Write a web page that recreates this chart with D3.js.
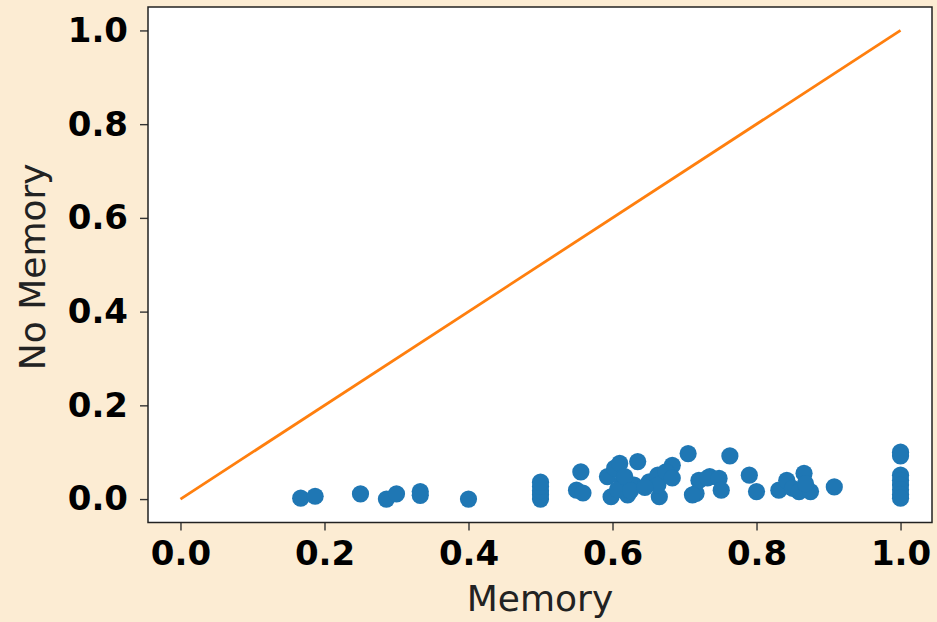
<!DOCTYPE html>
<html>
<head>
<meta charset="utf-8">
<script src="https://cdn.jsdelivr.net/npm/d3@7"></script>
<style>
  html, body { margin: 0; padding: 0; background: #fcecd3; }
  svg { display: block; }
</style>
</head>
<body>
<svg id="chart" width="937" height="622"></svg>
<script>
// Data
const memory = [
  0.167, 0.187, 0.25, 0.286, 0.30, 0.333, 0.333, 0.40,
  0.50, 0.50, 0.50, 0.50, 0.50,
  0.556, 0.550, 0.559,
  0.593, 0.603, 0.610, 0.598, 0.621, 0.630, 0.614, 0.635, 0.651, 0.663, 0.665, 0.663,
  0.705, 0.683, 0.674, 0.683, 0.716, 0.720, 0.711, 0.735, 0.732, 0.748, 0.751, 0.763,
  0.790, 0.800, 0.831, 0.842, 0.850, 0.866, 0.859, 0.875, 0.868, 0.908,
  0.607, 0.617, 0.625, 0.645,
  1.0, 1.0, 1.0, 1.0, 1.0, 1.0, 1.0, 1.0
];
const noMemory = [
  0.002, 0.006, 0.011, 0.0, 0.011, 0.016, 0.008, 0.0,
  0.0, 0.009, 0.018, 0.027, 0.036,
  0.058, 0.019, 0.013,
  0.048, 0.066, 0.076, 0.005, 0.009, 0.030, 0.037, 0.080, 0.037, 0.051, 0.005, 0.030,
  0.097, 0.072, 0.058, 0.045, 0.012, 0.040, 0.009, 0.048, 0.045, 0.044, 0.019, 0.092,
  0.051, 0.016, 0.019, 0.040, 0.023, 0.055, 0.016, 0.016, 0.033, 0.026,
  0.020, 0.048, 0.018, 0.025,
  0.100, 0.092, 0.051, 0.040, 0.030, 0.020, 0.010, 0.002
];
const lineX = [0.0, 1.0];
const lineY = [0.0, 1.0];
const xTicks = [0.0, 0.2, 0.4, 0.6, 0.8, 1.0];
const yTicks = [0.0, 0.2, 0.4, 0.6, 0.8, 1.0];
const xLabel = "Memory";
const yLabel = "No Memory";

const svg = d3.select("#chart");
const plot = { left: 148, right: 932, top: 7, bottom: 522.5 };

const x = d3.scaleLinear().domain([-0.0451, 1.0437]).range([plot.left, plot.right]);
const y = d3.scaleLinear().domain([-0.05, 1.05]).range([plot.bottom, plot.top]);

// background
svg.append("rect").attr("x", 0).attr("y", 0).attr("width", 937).attr("height", 622).attr("fill", "#fcecd3");
svg.append("rect")
  .attr("x", plot.left).attr("y", plot.top)
  .attr("width", plot.right - plot.left).attr("height", plot.bottom - plot.top)
  .attr("fill", "#ffffff");

// diagonal line
const line = d3.line().x(d => x(d[0])).y(d => y(d[1]));
svg.append("path")
  .datum(lineX.map((v, i) => [v, lineY[i]]))
  .attr("d", line)
  .attr("fill", "none")
  .attr("stroke", "#ff7f0e")
  .attr("stroke-width", 2.8);

// points
svg.append("g")
  .selectAll("circle")
  .data(memory.map((v, i) => [v, noMemory[i]]))
  .join("circle")
  .attr("cx", d => x(d[0]))
  .attr("cy", d => y(d[1]))
  .attr("r", 8.6)
  .attr("fill", "#1f77b4");

// axes
const fontFam = "'DejaVu Sans', sans-serif";
const xAxis = d3.axisBottom(x).tickValues(xTicks).tickFormat(d3.format(".1f")).tickSize(8).tickPadding(10);
const yAxis = d3.axisLeft(y).tickValues(yTicks).tickFormat(d3.format(".1f")).tickSize(8).tickPadding(12);

const gx = svg.append("g").attr("transform", `translate(0,${plot.bottom})`).call(xAxis);
const gy = svg.append("g").attr("transform", `translate(${plot.left},0)`).call(yAxis);

[gx, gy].forEach(g => {
  g.select(".domain").remove();
  g.selectAll(".tick line").attr("stroke", "#333").attr("stroke-width", 1.4);
  g.selectAll(".tick text")
    .attr("fill", "#000")
    .style("font-family", fontFam)
    .style("font-size", "34px")
    .style("font-weight", "bold");
});

// spines
svg.append("rect")
  .attr("x", plot.left).attr("y", plot.top)
  .attr("width", plot.right - plot.left).attr("height", plot.bottom - plot.top)
  .attr("fill", "none")
  .attr("stroke", "#222")
  .attr("stroke-width", 1.5);

// axis labels
svg.append("text")
  .attr("x", (plot.left + plot.right) / 2)
  .attr("y", 611)
  .attr("text-anchor", "middle")
  .style("font-family", fontFam)
  .style("font-size", "36px")
  .attr("fill", "#222")
  .text(xLabel);

svg.append("text")
  .attr("transform", `translate(45,${(plot.top + plot.bottom) / 2 + 2}) rotate(-90)`)
  .attr("text-anchor", "middle")
  .style("font-family", fontFam)
  .style("font-size", "36px")
  .attr("fill", "#222")
  .text(yLabel);
</script>
</body>
</html>
